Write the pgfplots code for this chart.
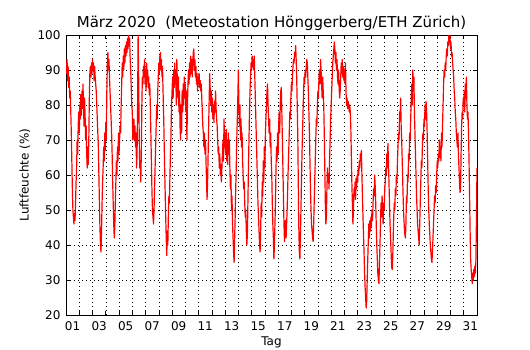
\documentclass[border=0pt]{standalone}
\usepackage{pgfplots}
\pgfplotsset{compat=1.18}
\usepackage{fontspec}
\setmainfont{DejaVu Sans}
\begin{document}
\begin{tikzpicture}
\useasboundingbox (0,0) rectangle (530bp,350bp);
\begin{axis}[
  at={(66bp,35bp)}, anchor=south west,
  width=411bp, height=280bp, scale only axis,
  xmin=0, xmax=31, ymin=20, ymax=100,
  xtick={0.5,2.5,...,30.5},
  xticklabels={01,03,05,07,09,11,13,15,17,19,21,23,25,27,29,31},
  major x tick style={draw=none},
  minor xtick={0,1,...,31},
  ytick={20,30,...,100},
  xminorgrids=true, ymajorgrids=true,
  grid style={black, line width=0.5bp, dash pattern=on 1bp off 3bp},
  tick align=inside,
  major tick length=4bp, minor tick length=4bp,
  tick style={black, line width=0.6bp},
  axis line style={black, line width=1bp},
  ticklabel style={font=\fontsize{12bp}{14bp}\selectfont},
  /pgf/number format/assume math mode=true,
  xticklabel style={yshift=-3.5bp},
  yticklabel style={xshift=-2bp},
]
\addplot[red, line width=1.2bp, line join=round] table[header=false, row sep=\\, x expr=\coordindex*0.04, y index=0] {
92\\89\\93\\87\\91\\85\\88\\82\\84\\78\\72\\64\\56\\50\\48\\46\\49\\47\\52\\58\\62\\70\\66\\74\\78\\
72\\80\\76\\83\\77\\84\\79\\86\\80\\74\\82\\77\\70\\74\\66\\62\\68\\63\\70\\82\\89\\91\\88\\92\\89\\
93\\90\\92\\87\\91\\88\\86\\84\\80\\76\\72\\68\\60\\52\\45\\40\\38\\44\\52\\58\\62\\68\\64\\72\\67\\
75\\70\\84\\92\\95\\90\\93\\88\\84\\80\\76\\72\\66\\58\\52\\46\\42\\45\\52\\58\\64\\60\\68\\64\\72\\
66\\70\\74\\72\\80\\86\\92\\88\\94\\90\\96\\92\\97\\94\\98\\95\\99\\96\\100\\97\\99\\93\\90\\85\\80\\
78\\70\\73\\76\\70\\74\\68\\72\\62\\66\\80\\100\\88\\72\\62\\64\\58\\66\\80\\88\\86\\91\\88\\93\\86\\
90\\84\\92\\87\\90\\85\\88\\83\\86\\80\\72\\64\\56\\50\\48\\46\\50\\56\\62\\68\\74\\80\\76\\84\\88\\
92\\89\\94\\95\\90\\93\\88\\91\\84\\78\\70\\62\\55\\48\\42\\37\\44\\40\\48\\54\\52\\60\\66\\72\\80\\
84\\88\\82\\90\\85\\92\\86\\90\\80\\93\\86\\82\\88\\78\\84\\74\\70\\80\\72\\84\\78\\86\\80\\88\\82\\
86\\78\\84\\70\\80\\86\\90\\86\\92\\88\\94\\89\\93\\88\\92\\95\\96\\90\\93\\88\\91\\86\\89\\84\\88\\
86\\89\\85\\87\\84\\86\\82\\78\\74\\72\\68\\72\\66\\70\\64\\58\\53\\58\\66\\74\\82\\89\\84\\80\\84\\
78\\82\\76\\80\\75\\81\\78\\84\\79\\76\\74\\70\\66\\68\\62\\66\\60\\63\\58\\62\\66\\70\\64\\76\\68\\
72\\66\\73\\64\\70\\63\\72\\66\\70\\62\\56\\60\\50\\54\\46\\42\\38\\35\\42\\48\\56\\62\\70\\76\\82\\
90\\80\\74\\80\\70\\76\\68\\72\\64\\60\\56\\58\\52\\48\\50\\44\\40\\43\\52\\62\\70\\78\\84\\88\\92\\
90\\94\\91\\93\\90\\94\\88\\82\\76\\70\\64\\58\\52\\48\\44\\40\\38\\44\\52\\48\\58\\54\\64\\58\\68\\
62\\72\\76\\80\\84\\86\\80\\76\\72\\76\\68\\72\\64\\60\\52\\46\\42\\36\\40\\46\\52\\62\\68\\64\\72\\
66\\74\\78\\72\\80\\84\\85\\78\\70\\62\\54\\46\\41\\44\\47\\42\\46\\50\\56\\62\\67\\72\\78\\76\\82\\
86\\84\\88\\91\\93\\92\\95\\94\\97\\93\\88\\80\\72\\58\\45\\38\\36\\42\\50\\58\\66\\72\\78\\84\\88\\
86\\90\\88\\91\\93\\92\\88\\84\\78\\72\\64\\56\\50\\46\\44\\42\\41\\46\\52\\58\\64\\70\\76\\74\\80\\
84\\82\\88\\90\\86\\93\\90\\86\\82\\88\\84\\80\\72\\62\\52\\46\\48\\56\\62\\58\\60\\56\\64\\70\\76\\
80\\84\\88\\92\\94\\96\\98\\96\\92\\95\\90\\93\\88\\86\\90\\85\\82\\84\\88\\92\\89\\93\\88\\91\\87\\
90\\86\\92\\84\\80\\82\\79\\81\\80\\78\\80\\78\\74\\66\\58\\52\\46\\50\\56\\54\\58\\53\\59\\56\\60\\
58\\62\\60\\64\\62\\66\\64\\67\\60\\54\\48\\43\\38\\32\\28\\25\\22\\24\\30\\36\\41\\46\\42\\47\\44\\
48\\45\\50\\47\\52\\56\\54\\60\\57\\52\\46\\40\\36\\32\\30\\29\\34\\40\\46\\52\\48\\54\\50\\46\\52\\
50\\56\\58\\62\\60\\66\\62\\69\\64\\58\\52\\46\\42\\38\\34\\33\\36\\42\\48\\52\\50\\56\\54\\60\\58\\
64\\68\\72\\70\\78\\76\\82\\74\\70\\64\\58\\52\\48\\45\\43\\42\\46\\54\\52\\60\\58\\66\\64\\72\\70\\
76\\82\\86\\80\\90\\84\\88\\78\\72\\66\\60\\54\\50\\46\\44\\42\\40\\46\\52\\58\\64\\62\\68\\72\\70\\
76\\74\\80\\76\\81\\78\\72\\64\\56\\50\\46\\43\\40\\38\\36\\35\\38\\42\\46\\50\\54\\52\\57\\55\\60\\
64\\62\\66\\64\\70\\65\\68\\64\\72\\68\\74\\80\\86\\90\\88\\92\\90\\94\\96\\94\\98\\97\\100\\98\\100\\
96\\98\\94\\95\\92\\90\\88\\84\\82\\78\\76\\72\\70\\68\\72\\66\\62\\58\\55\\56\\66\\74\\78\\76\\82\\
80\\84\\78\\86\\82\\88\\80\\76\\78\\72\\64\\54\\44\\36\\33\\31\\29\\32\\30\\33\\31\\34\\32\\36\\48\\
62\\
};
\end{axis}
\node[anchor=base, font=\fontsize{15bp}{18bp}\selectfont] at (271.5bp,322bp) {März 2020~ (Meteostation Hönggerberg/ETH Zürich)};
\node[anchor=base, font=\fontsize{12bp}{14bp}\selectfont] at (271.5bp,4.5bp) {Tag};
\node[anchor=base, rotate=90, font=\fontsize{12bp}{14bp}\selectfont] at (28.5bp,175bp) {Luftfeuchte (\%)};
\end{tikzpicture}
\end{document}
